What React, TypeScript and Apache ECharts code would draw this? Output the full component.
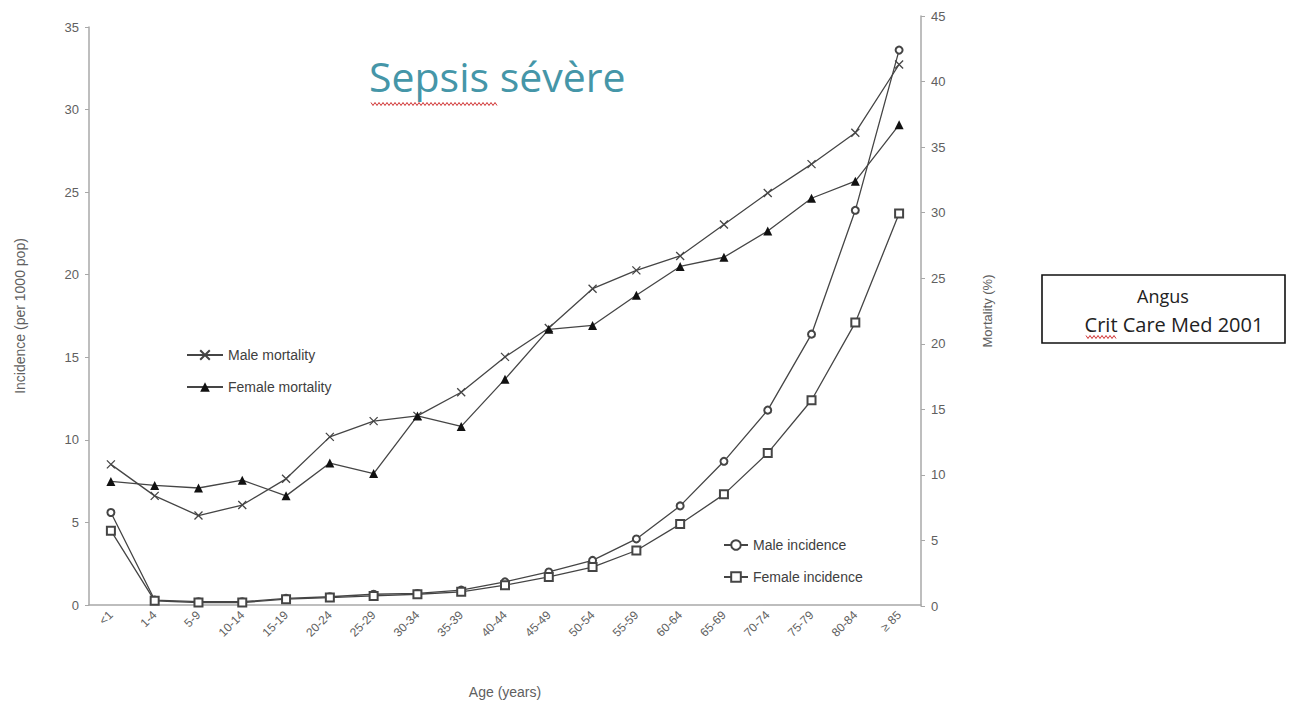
import React, { useEffect, useRef } from "react";
import * as echarts from "echarts";

const categories = ["<1", "1-4", "5-9", "10-14", "15-19", "20-24", "25-29", "30-34", "35-39", "40-44", "45-49", "50-54", "55-59", "60-64", "65-69", "70-74", "75-79", "80-84", "≥ 85"];
const maleMortality = [10.8, 8.4, 6.9, 7.7, 9.7, 12.9, 14.1, 14.5, 16.3, 19.0, 21.2, 24.2, 25.6, 26.7, 29.1, 31.5, 33.7, 36.1, 41.3];
const femaleMortality = [9.5, 9.2, 9.0, 9.6, 8.4, 10.9, 10.1, 14.5, 13.7, 17.3, 21.1, 21.4, 23.7, 25.9, 26.6, 28.6, 31.1, 32.4, 36.7];
const maleIncidence = [5.6, 0.3, 0.2, 0.2, 0.4, 0.5, 0.65, 0.7, 0.9, 1.4, 2.0, 2.7, 4.0, 6.0, 8.7, 11.8, 16.4, 23.9, 33.6];
const femaleIncidence = [4.5, 0.25, 0.15, 0.15, 0.35, 0.45, 0.55, 0.65, 0.8, 1.2, 1.7, 2.3, 3.3, 4.9, 6.7, 9.2, 12.4, 17.1, 23.7];

const FONT = "'Liberation Sans', Arial, sans-serif";
const AXIS_GREY = "#a8a8a8";
const TEXT_GREY = "#606060";
const LINE = "#454545";

function squiggle(x0: number, x1: number, y: number): number[][] {
  const pts: number[][] = [];
  let up = true;
  for (let x = x0; x <= x1; x += 2) {
    pts.push([x, up ? y - 1.5 : y + 1.5]);
    up = !up;
  }
  return pts;
}

export default function App() {
  const ref = useRef<HTMLDivElement>(null);
  useEffect(() => {
    if (!ref.current) return;
    const chart = echarts.init(ref.current, null, { renderer: "svg" });
    const crossSymbol = "path://M0,0L10,10M10,0L0,10";
    chart.setOption({
      animation: false,
      backgroundColor: "#ffffff",
      grid: [
        { left: 89, right: 369, top: 27, bottom: 98 },
        { left: 89, right: 369, top: 16, bottom: 98 },
      ],
      xAxis: [
        {
          type: "category",
          gridIndex: 0,
          data: categories,
          boundaryGap: true,
          axisLine: { lineStyle: { color: AXIS_GREY, width: 1.5 } },
          axisTick: { show: false },
          axisLabel: { rotate: 45, color: TEXT_GREY, fontFamily: FONT, fontSize: 12, margin: 8, interval: 0 },
          name: "Age (years)",
          nameLocation: "middle",
          nameGap: 80,
          nameTextStyle: { color: TEXT_GREY, fontFamily: FONT, fontSize: 14 },
        },
        {
          type: "category",
          gridIndex: 1,
          data: categories,
          boundaryGap: true,
          show: false,
        },
      ],
      yAxis: [
        {
          type: "value",
          gridIndex: 0,
          position: "left",
          min: 0,
          max: 35,
          interval: 5,
          splitLine: { show: false },
          axisLine: { show: true, lineStyle: { color: AXIS_GREY, width: 1.5 } },
          axisTick: { show: true, length: 4, lineStyle: { color: AXIS_GREY } },
          axisLabel: { color: TEXT_GREY, fontFamily: FONT, fontSize: 13, margin: 10 },
          name: "Incidence (per 1000 pop)",
          nameLocation: "middle",
          nameGap: 62,
          nameTextStyle: { color: TEXT_GREY, fontFamily: FONT, fontSize: 14 },
        },
        {
          type: "value",
          gridIndex: 1,
          position: "right",
          min: 0,
          max: 45,
          interval: 5,
          splitLine: { show: false },
          axisLine: { show: true, lineStyle: { color: AXIS_GREY, width: 1.5 } },
          axisTick: { show: true, length: 4, lineStyle: { color: AXIS_GREY } },
          axisLabel: { color: TEXT_GREY, fontFamily: FONT, fontSize: 13, margin: 10 },
          name: "Mortality (%)",
          nameLocation: "middle",
          nameGap: 60,
          nameTextStyle: { color: TEXT_GREY, fontFamily: FONT, fontSize: 13 },
        },
      ],
      legend: [
        {
          data: ["Male mortality", "Female mortality"],
          orient: "vertical",
          left: 181,
          top: 343,
          itemWidth: 36,
          itemHeight: 12,
          itemGap: 18,
          textStyle: { color: "#404040", fontFamily: FONT, fontSize: 14 },
        },
        {
          data: ["Male incidence", "Female incidence"],
          orient: "vertical",
          left: 718,
          top: 533,
          itemWidth: 24,
          itemHeight: 12,
          itemGap: 18,
          textStyle: { color: "#404040", fontFamily: FONT, fontSize: 14 },
        },
      ],
      series: [
        {
          name: "Male mortality",
          type: "line",
          xAxisIndex: 1,
          yAxisIndex: 1,
          data: maleMortality,
          symbol: crossSymbol,
          symbolSize: 8,
          lineStyle: { color: LINE, width: 1.3 },
          itemStyle: { color: "transparent", borderColor: LINE, borderWidth: 1.3 },
        },
        {
          name: "Female mortality",
          type: "line",
          xAxisIndex: 1,
          yAxisIndex: 1,
          data: femaleMortality,
          symbol: "triangle",
          symbolSize: 9,
          lineStyle: { color: LINE, width: 1.3 },
          itemStyle: { color: "#111111" },
        },
        {
          name: "Male incidence",
          type: "line",
          xAxisIndex: 0,
          yAxisIndex: 0,
          data: maleIncidence,
          symbol: "emptyCircle",
          symbolSize: 7,
          lineStyle: { color: LINE, width: 1.3 },
          itemStyle: { color: LINE, borderWidth: 1.3 },
        },
        {
          name: "Female incidence",
          type: "line",
          xAxisIndex: 0,
          yAxisIndex: 0,
          data: femaleIncidence,
          symbol: "emptyRect",
          symbolSize: 8,
          lineStyle: { color: LINE, width: 1.3 },
          itemStyle: { color: LINE, borderWidth: 1.3 },
        },
      ],
      graphic: [
        {
          type: "text",
          left: 369,
          top: 55,
          style: { text: "Sepsis sévère", fill: "#4596a8", font: "41px 'Open Sans', 'Noto Sans', sans-serif" },
        },
        {
          type: "polyline",
          shape: { points: squiggle(371, 497, 104) },
          style: { stroke: "#d03030", lineWidth: 1, fill: "none" },
        },
        {
          type: "rect",
          shape: { x: 1042, y: 275, width: 243, height: 68 },
          style: { fill: "#ffffff", stroke: "#111111", lineWidth: 1.6 },
        },
        {
          type: "text",
          x: 1163,
          y: 296,
          style: { text: "Angus", fill: "#222222", font: "18px 'Open Sans', 'Noto Sans', sans-serif", align: "center", verticalAlign: "middle" },
        },
        {
          type: "text",
          x: 1174,
          y: 324,
          style: { text: "Crit Care Med 2001", fill: "#222222", font: "20px 'Open Sans', 'Noto Sans', sans-serif", align: "center", verticalAlign: "middle" },
        },
        {
          type: "polyline",
          shape: { points: squiggle(1086, 1116, 337) },
          style: { stroke: "#d03030", lineWidth: 1, fill: "none" },
        },
      ],
    });
    return () => chart.dispose();
  }, []);
  return <div ref={ref} style={{ position: "absolute", left: 0, top: 0, width: 1290, height: 704 }} />;
}
